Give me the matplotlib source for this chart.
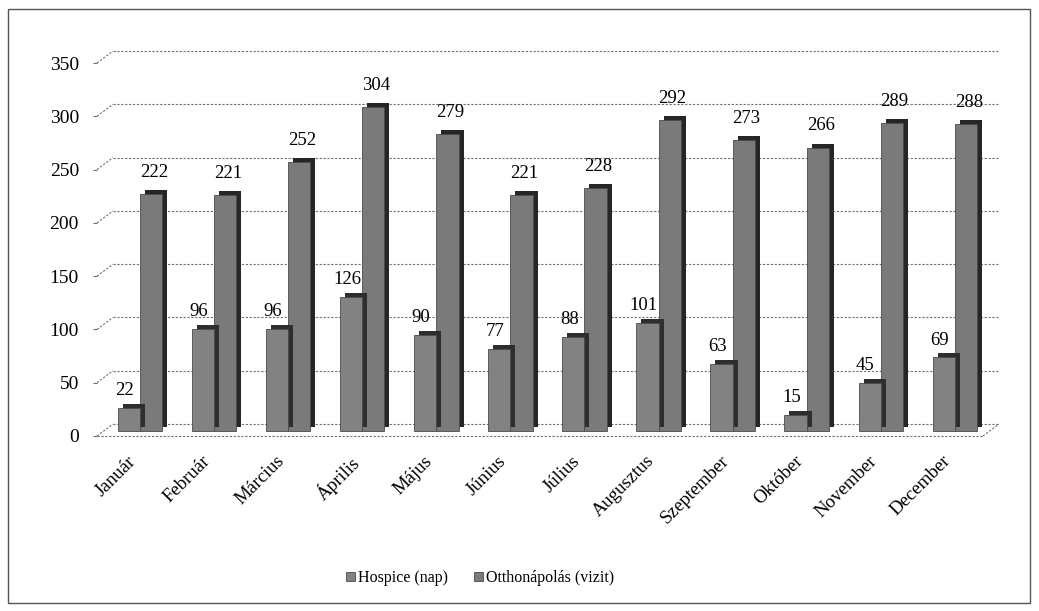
import numpy as np
import matplotlib.pyplot as plt
from matplotlib.transforms import ScaledTranslation
from matplotlib.patches import Rectangle

plt.rcParams['font.family'] = ['Liberation Serif', 'DejaVu Serif']

# Data
months = ['Január', 'Február', 'Március', 'Április', 'Május', 'Június',
          'Július', 'Augusztus', 'Szeptember', 'Október', 'November', 'December']
hospice = [22, 96, 96, 126, 90, 77, 88, 101, 63, 15, 45, 69]
otthon = [222, 221, 252, 304, 279, 221, 228, 292, 273, 266, 289, 288]
yticks = [0, 50, 100, 150, 200, 250, 300, 350]

DPI = 100
fig = plt.figure(figsize=(10.39, 6.11), dpi=DPI)
W, H = 1039, 611
ax = fig.add_axes([97 / W, 1 - 436 / H, (983 - 97) / W, (436 - 63) / H])
x0, x1 = -0.58, 11.38
ax.set_xlim(x0, x1)
ax.set_ylim(0, 350)

# outer frame
fig.patches.append(Rectangle((8 / W, 8 / H), 1022 / W, 594 / H, transform=fig.transFigure,
                             fill=False, edgecolor='#555555', linewidth=1.0))

grid_style = dict(color='#6f6f6f', lw=0.8, ls=(0, (2, 1.5)), clip_on=False, zorder=1)

def px(dx, dy):
    return ScaledTranslation(dx / DPI, dy / DPI, fig.dpi_scale_trans)

# back wall gridlines, pushed into depth
back = ax.transData + px(16, 12)
for v in yticks:
    ax.plot([x0, x1], [v, v], transform=back, **grid_style)
# short diagonals from the front axis to the back wall
for v in yticks:
    p0 = ax.transData.transform((x0, v))
    ax.plot([p0[0], p0[0] + 16], [p0[1], p0[1] + 12], transform=None, **grid_style)
# floor: front edge and right diagonal
ax.plot([x0, x1], [0, 0], **grid_style)
p1 = ax.transData.transform((x1, 0))
ax.plot([p1[0], p1[0] + 16], [p1[1], p1[1] + 12], transform=None, **grid_style)

x = np.arange(len(months))
bw = 0.3
# bars sit a little into the depth
mid = ax.transData + px(0, 5)
side = ax.transData + px(5, 9)

ax.bar(x + bw / 2, otthon, bw, color='#262626', transform=side, zorder=2)
ax.bar(x + bw / 2, otthon, bw, color='#7a7a7a', edgecolor='#4a4a4a', lw=0.6, zorder=3,
       transform=mid, label='Otthonápolás (vizit)')
ax.bar(x - bw / 2, hospice, bw, color='#2e2e2e', transform=side, zorder=4)
ax.bar(x - bw / 2, hospice, bw, color='#828282', edgecolor='#4a4a4a', lw=0.6, zorder=5,
       transform=mid, label='Hospice (nap)')

for i in range(len(months)):
    ax.annotate(str(hospice[i]), (x[i] - bw / 2, hospice[i]), xytext=(-3, 10),
                textcoords='offset points', ha='center', va='bottom', fontsize=13.5, zorder=6)
    ax.annotate(str(otthon[i]), (x[i] + bw / 2, otthon[i]), xytext=(2, 13),
                textcoords='offset points', ha='center', va='bottom', fontsize=13.5, zorder=6)

ax.set_yticks(yticks)
ax.set_yticklabels([str(v) for v in yticks], fontsize=14)
# category labels sit slightly left of the bar pair centre
ax.set_xticks(x - 0.17)
ax.set_xticklabels(months, rotation=45, ha='right', rotation_mode='anchor', fontsize=13.5)
ax.tick_params(axis='x', length=0, pad=12)
ax.tick_params(axis='y', length=3, color='#6f6f6f', pad=10)
for s in ax.spines.values():
    s.set_visible(False)
ax.patch.set_visible(False)

handles, labels = ax.get_legend_handles_labels()
fig.legend(handles[::-1], labels[::-1], loc='center', bbox_to_anchor=(480 / W, 1 - 578 / H),
           ncol=2, frameon=False, fontsize=11.5, handlelength=0.55, handleheight=0.55,
           handletextpad=0.2, columnspacing=1.6)

fig.savefig('out.png', dpi=DPI)
